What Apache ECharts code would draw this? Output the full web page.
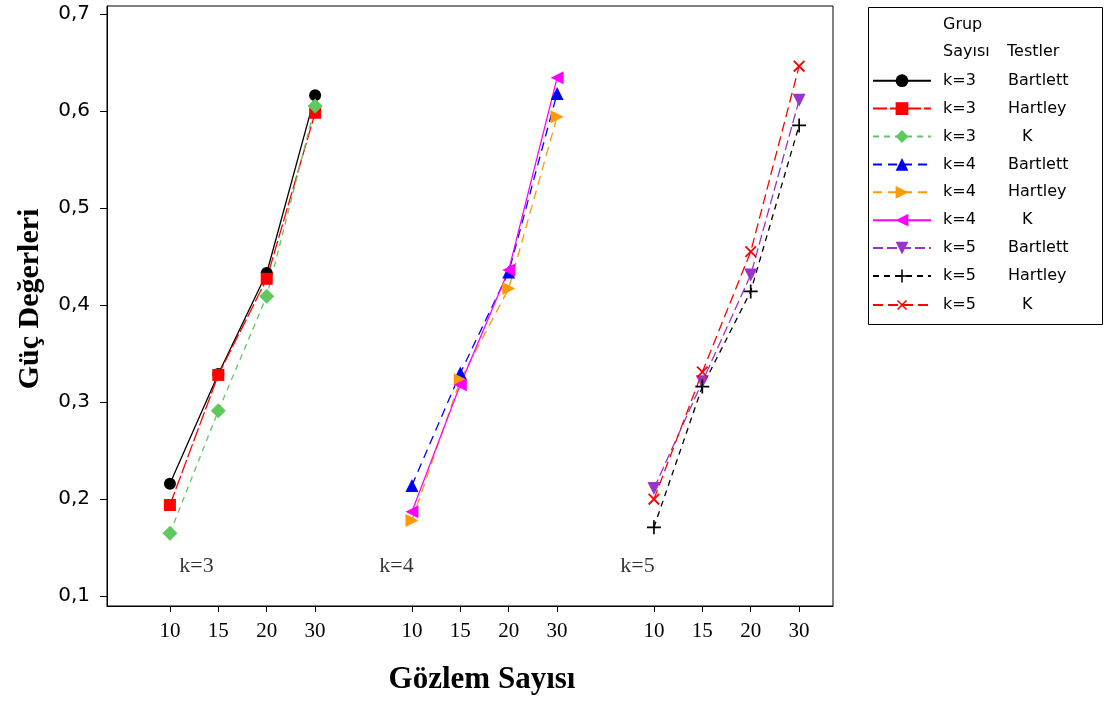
<!DOCTYPE html>
<html><head><meta charset="utf-8">
<script src="https://cdn.jsdelivr.net/npm/echarts@6/dist/echarts.min.js"></script>
<style>html,body{margin:0;padding:0;background:#fff}#c{width:1110px;height:702px}</style>
</head><body><div id="c"></div>
<script>
// ---- data ----
const groupNames = ['k=3', 'k=4', 'k=5'];
const sampleSizes = ['10', '15', '20', '30'];
const yTicks = [0.1, 0.2, 0.3, 0.4, 0.5, 0.6, 0.7];

const k3_Bartlett = [0.216, 0.329, 0.433, 0.616];
const k3_Hartley  = [0.194, 0.328, 0.427, 0.598];
const k3_K        = [0.165, 0.291, 0.409, 0.605];
const k4_Bartlett = [0.214, 0.330, 0.434, 0.618];
const k4_Hartley  = [0.178, 0.323, 0.417, 0.594];
const k4_K        = [0.187, 0.318, 0.436, 0.634];
const k5_Bartlett = [0.211, 0.321, 0.431, 0.611];
const k5_Hartley  = [0.171, 0.316, 0.414, 0.585];
const k5_K        = [0.200, 0.331, 0.455, 0.646];

// ---- layout helpers ----
const GROUP_STEP = 5;
function xPos(g, i) { return g * GROUP_STEP + i + 1; }
const tickXs = [];
const tickLabelMap = {};
groupNames.forEach((g, gi) => sampleSizes.forEach((s, i) => { const x = xPos(gi, i); tickXs.push(x); tickLabelMap[x] = s; }));

const plusPath = 'path://M4.4,0h1.2v10h-1.2z M0,4.4h10v1.2h-10z';

const seriesDefs = [
  { g: 0, test: 'Bartlett', data: k3_Bartlett, color: '#000000', dash: 'solid', symbol: 'circle', size: 12, rot: 0 },
  { g: 0, test: 'Hartley', data: k3_Hartley, color: '#FF0000', dash: [14, 3], symbol: 'rect', size: 12, rot: 0 },
  { g: 0, test: 'K', data: k3_K, color: '#5FC85F', dash: [6, 5], symbol: 'diamond', size: 15, rot: 0 },
  { g: 1, test: 'Bartlett', data: k4_Bartlett, color: '#0000FF', dash: [9, 6], symbol: 'triangle', size: 13, rot: 0 },
  { g: 1, test: 'Hartley', data: k4_Hartley, color: '#FF9900', dash: [9, 6], symbol: 'triangle', size: 13, rot: -90 },
  { g: 1, test: 'K', data: k4_K, color: '#FF00FF', dash: 'solid', symbol: 'triangle', size: 13, rot: 90 },
  { g: 2, test: 'Bartlett', data: k5_Bartlett, color: '#9933CC', dash: [10, 4], symbol: 'triangle', size: 13, rot: 180 },
  { g: 2, test: 'Hartley', data: k5_Hartley, color: '#000000', dash: [6, 5], symbol: plusPath, size: 14, rot: 0 },
  { g: 2, test: 'K', data: k5_K, color: '#FF0000', dash: [10, 5], symbol: plusPath, size: 15, rot: 45 }
];

const series = seriesDefs.map(d => ({
  type: 'line',
  name: groupNames[d.g] + '|' + d.test,
  data: d.data.map((v, i) => [xPos(d.g, i), v]),
  symbol: d.symbol,
  symbolSize: d.size,
  symbolRotate: d.rot,
  showSymbol: true,
  itemStyle: { color: d.color },
  lineStyle: { color: d.color, width: 1.3, type: d.dash },
  z: 3
}));

// group annotation labels (k=3, k=4, k=5) inside plot
const annX = [1.55, 5.68, 10.66];
const annY = 0.131;
series.push({
  type: 'scatter',
  name: 'annotations',
  symbolSize: 0,
  silent: true,
  data: groupNames.map((g, gi) => ({ value: [annX[gi], annY], name: g })),
  label: { show: true, position: 'inside', formatter: p => p.name, fontFamily: 'Liberation Serif', fontSize: 22, color: '#000' }
});

const chart = echarts.init(document.getElementById('c'), null, { renderer: 'canvas' });
chart.setOption({
  animation: false,
  backgroundColor: '#fff',
  grid: { left: 107, right: 277, top: 6, bottom: 96, show: true, borderColor: '#000', borderWidth: 1, backgroundColor: 'transparent' },
  xAxis: {
    type: 'value', min: -0.3, max: 14.7,
    axisLine: { show: true, onZero: false, lineStyle: { color: '#000' } },
    splitLine: { show: false },
    axisTick: { show: true, length: 6, lineStyle: { color: '#000' }, customValues: tickXs },
    axisLabel: { customValues: tickXs, formatter: v => tickLabelMap[v] || '', fontFamily: 'Liberation Serif', fontSize: 21, color: '#000', margin: 15 },
    name: 'Gözlem Sayısı', nameLocation: 'middle', nameGap: 58,
    nameTextStyle: { fontFamily: 'Liberation Serif', fontWeight: 'bold', fontSize: 31, color: '#000', padding: [0, 0, 0, 24] }
  },
  yAxis: {
    type: 'value', min: 0.09, max: 0.708,
    axisLine: { show: true, onZero: false, lineStyle: { color: '#000' } },
    splitLine: { show: false },
    axisTick: { show: true, length: 7, lineStyle: { color: '#000' }, customValues: yTicks },
    axisLabel: { customValues: yTicks, formatter: v => v.toFixed(1).replace('.', ','), fontFamily: 'DejaVu Sans', fontSize: 20, color: '#000', margin: 17 },
    name: 'Güç Değerleri', nameLocation: 'middle', nameGap: 62, nameRotate: 90,
    nameTextStyle: { fontFamily: 'Liberation Serif', fontWeight: 'bold', fontSize: 30, color: '#000', padding: [0, 0, 0, 14] }
  },
  legend: {
    data: seriesDefs.map(d => groupNames[d.g] + '|' + d.test),
    orient: 'vertical',
    left: 867, top: 67.7,
    itemWidth: 58, itemHeight: 16, itemGap: 11.9,
    formatter: name => { const p = name.split('|'); return '{g|' + p[0] + '}' + (p[1] === 'K' ? '{k|K}' : '{t|' + p[1] + '}'); },
    textStyle: {
      fontFamily: 'DejaVu Sans', fontSize: 16, color: '#000',
      rich: {
        g: { width: 65, padding: [0, 0, 0, 7], fontFamily: 'DejaVu Sans', fontSize: 16 },
        t: { fontFamily: 'DejaVu Sans', fontSize: 16 },
        k: { padding: [0, 0, 0, 14], fontFamily: 'DejaVu Sans', fontSize: 16 }
      }
    },
    selectedMode: false
  },
  graphic: [
    { type: 'rect', left: 866, top: 5, shape: { width: 234, height: 317 }, style: { fill: 'none', stroke: '#000', lineWidth: 1 } },
    { type: 'text', left: 943, top: 17, style: { text: 'Grup', font: '16px "DejaVu Sans"', fill: '#000' } },
    { type: 'text', left: 943, top: 44, style: { text: 'Sayısı', font: '16px "DejaVu Sans"', fill: '#000' } },
    { type: 'text', left: 1007, top: 44, style: { text: 'Testler', font: '16px "DejaVu Sans"', fill: '#000' } }
  ],
  series: series
});
</script>
</body></html>
